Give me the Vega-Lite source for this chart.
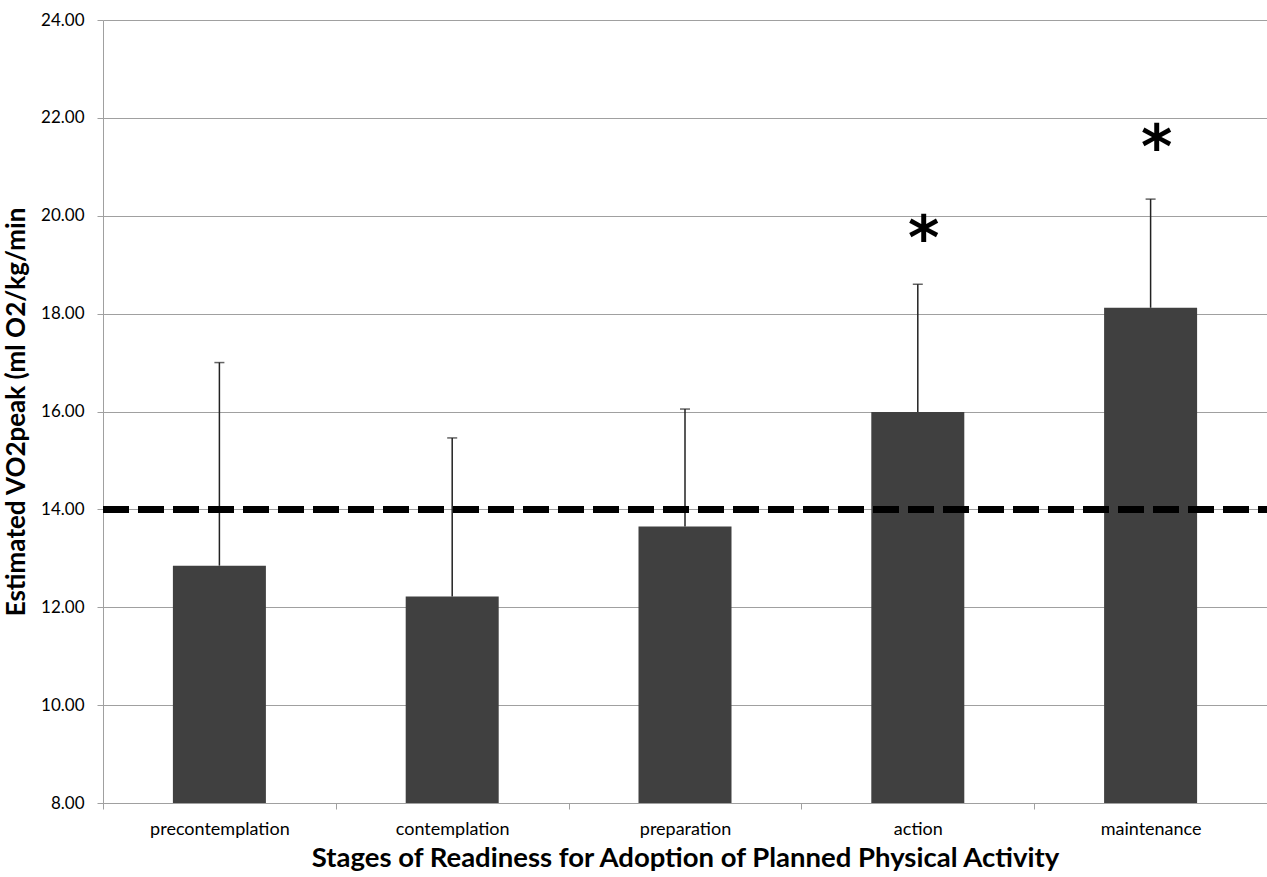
{
  "$schema": "https://vega.github.io/schema/vega-lite/v6.json",
  "width": 1164,
  "height": 783,
  "autosize": {"type": "none"},
  "padding": {"left": 103, "top": 20, "right": 0, "bottom": 74},
  "background": "white",
  "config": {
    "view": {"stroke": null},
    "font": "Lato",
    "axis": {"labelFont": "Lato", "titleFont": "Lato"}
  },
  "data": {
    "values": [
      {"stage": "precontemplation", "mean": 12.85, "upper": 17.0},
      {"stage": "contemplation", "mean": 12.22, "upper": 15.46},
      {"stage": "preparation", "mean": 13.65, "upper": 16.05},
      {"stage": "action", "mean": 15.99, "upper": 18.6, "star": 19.48},
      {"stage": "maintenance", "mean": 18.12, "upper": 20.34, "star": 21.34}
    ]
  },
  "encoding": {
    "x": {
      "field": "stage",
      "type": "nominal",
      "sort": null,
      "scale": {"paddingInner": 0, "paddingOuter": 0},
      "axis": {
        "title": "Stages of Readiness for Adoption of Planned Physical Activity",
        "titleFontSize": 27.5,
        "titleFontWeight": "bold",
        "titleColor": "black",
        "titlePadding": 6,
        "labelAngle": 0,
        "labelFontSize": 18,
        "labelColor": "black",
        "labelPadding": 11,
        "tickBand": "extent",
        "tickColor": "#a0a0a0",
        "tickSize": 6,
        "domainColor": "#a0a0a0",
        "grid": false
      }
    }
  },
  "layer": [
    {
      "mark": {"type": "bar", "color": "#404040", "size": 93},
      "encoding": {
        "y": {
          "field": "mean",
          "type": "quantitative",
          "scale": {"domain": [8, 24], "zero": false, "nice": false},
          "axis": {
            "title": "Estimated VO2peak (ml O2/kg/min",
            "titleFontSize": 26,
            "titleFontWeight": "bold",
            "titleColor": "black",
            "titlePadding": 11,
            "values": [8, 10, 12, 14, 16, 18, 20, 22, 24],
            "format": ".2f",
            "labelFontSize": 17,
            "labelColor": "black",
            "labelPadding": 13,
            "tickColor": "#a0a0a0",
            "tickSize": 6,
            "domainColor": "#a0a0a0",
            "grid": true,
            "gridColor": "#a0a0a0",
            "gridWidth": 1
          }
        },
        "y2": {"datum": 8}
      }
    },
    {
      "mark": {"type": "rule", "color": "#222222", "strokeWidth": 1.5},
      "encoding": {
        "y": {"field": "mean", "type": "quantitative"},
        "y2": {"field": "upper"}
      }
    },
    {
      "mark": {"type": "tick", "color": "#222222", "thickness": 1.5, "size": 10, "orient": "horizontal"},
      "encoding": {
        "y": {"field": "upper", "type": "quantitative"}
      }
    },
    {
      "mark": {"type": "rule", "color": "black", "strokeWidth": 7, "strokeDash": [26, 9]},
      "encoding": {
        "y": {"datum": 14},
        "x": {"value": 0},
        "x2": {"value": 1164}
      }
    },
    {
      "mark": {"type": "text", "text": "*", "fontSize": 60, "fontWeight": "bold", "color": "black", "baseline": "middle", "dx": 6, "font": "DejaVu Sans"},
      "encoding": {
        "y": {"field": "star", "type": "quantitative"}
      }
    }
  ]
}
